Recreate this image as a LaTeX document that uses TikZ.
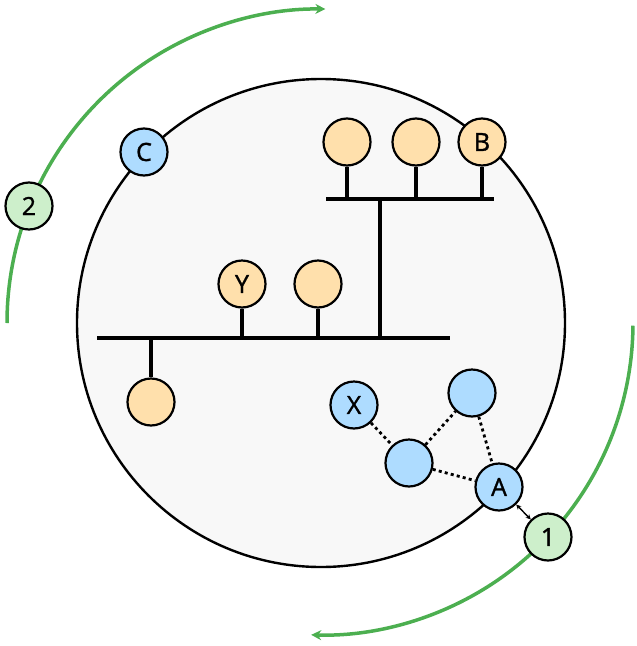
\documentclass[tikz,border=0pt]{standalone}
\usepackage{fontspec}
\setmainfont{Open Sans}
\newfontfamily\lblfont{Open Sans}[FakeBold=1.3]
\usetikzlibrary{arrows.meta}
\definecolor{orfill}{HTML}{FFE0AC}
\definecolor{blfill}{HTML}{AEDCFF}
\definecolor{grfill}{HTML}{CDEFCB}
\definecolor{grline}{HTML}{4CAF50}
\definecolor{bgfill}{HTML}{F8F8F8}
\begin{document}
\begin{tikzpicture}[x=1pt,y=-1pt,
  ball/.style={circle,draw=black,line width=2.2pt,minimum size=47pt,inner sep=0pt,font=\fontsize{25}{27}\lblfont},
  orb/.style={ball,fill=orfill},
  blb/.style={ball,fill=blfill},
  grb/.style={ball,fill=grfill},
  bar/.style={line width=3.2pt},
  link/.style={line width=2.8pt,dash pattern=on 3pt off 3.2pt},
  orbit/.style={draw=grline,line width=3.5pt,-{Stealth[length=10pt,width=10pt]}}
]
\useasboundingbox (0,0) rectangle (637,646);
\coordinate (c) at (321,323);
% big circle
\draw[fill=bgfill,line width=2.4pt] (c) circle[radius=244pt];
% green orbits
\draw[orbit] (c) ++(180:314pt) arc[start angle=180,end angle=89.2,radius=314pt];
\draw[orbit] (c) ++(-0.5:312pt) arc[start angle=-0.5,end angle=-91.8,radius=312pt];
% tree coordinates
\coordinate (tb1) at (326,199);
\coordinate (tb2) at (494,199);
\coordinate (lb1) at (97,338);
\coordinate (lb2) at (450,338);
\coordinate (tr1) at (380,199);
\coordinate (tr2) at (380,338);
% orange nodes
\node[orb] (o1) at (347,142) {};
\node[orb] (o2) at (416,142) {};
\node[orb] (B) at (482,142) {B};
\node[orb] (Y) at (242,284) {Y};
\node[orb] (o4) at (318,284) {};
\node[orb] (o5) at (151,402) {};
\draw[bar] (tb1) -- (tb2);
\draw[bar] (lb1) -- (lb2);
\draw[bar] (tr1) -- (tr2);
\draw[bar] (o1.south) -- (o1.south |- tb1);
\draw[bar] (o2.south) -- (o2.south |- tb1);
\draw[bar] (B.south) -- (B.south |- tb1);
\draw[bar] (Y.south) -- (Y.south |- lb1);
\draw[bar] (o4.south) -- (o4.south |- lb1);
\draw[bar] (o5.north) -- (o5.north |- lb1);
% blue nodes
\node[blb] (C) at (144,152) {C};
\node[blb] (X) at (354,405) {X};
\node[blb] (b1) at (472,393) {};
\node[blb] (b2) at (409,463) {};
\node[blb] (A) at (499,487) {A};
\draw[link] (X) -- (b2);
\draw[link] (b2) -- (b1);
\draw[link] (b1) -- (A);
\draw[link] (b2) -- (A);
% green nodes
\node[grb] (n1) at (548,537) {1};
\node[grb] (n2) at (29,206) {2};
\draw[line width=1.4pt,{Stealth[length=5pt,width=5pt]}-{Stealth[length=5pt,width=5pt]}] (A) -- (n1);
\end{tikzpicture}
\end{document}
